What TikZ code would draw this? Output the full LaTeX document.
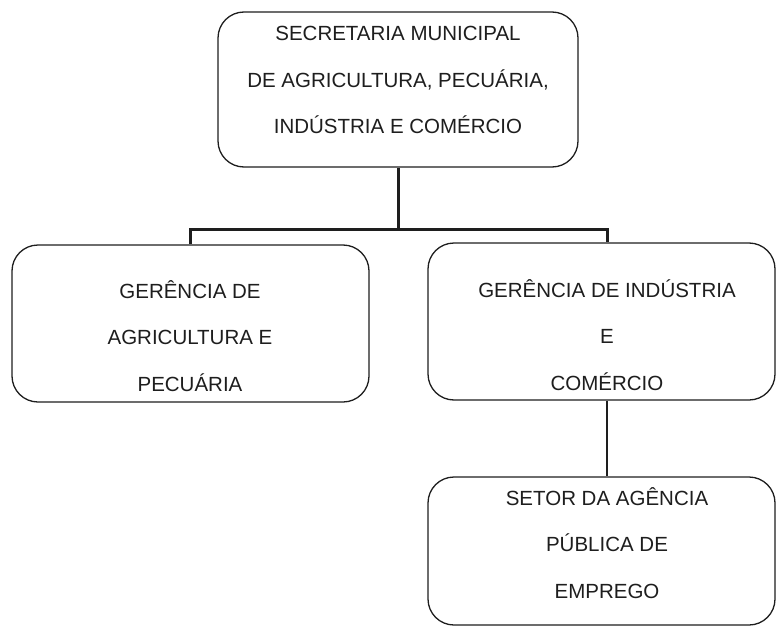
\documentclass[tikz,border=0pt]{standalone}
\usepackage{fontspec}
\setmainfont{Liberation Sans}
\definecolor{ink}{HTML}{1E1E1E}
\begin{document}
\begin{tikzpicture}[x=1pt,y=-1pt,
  box/.style={draw=ink,line width=1.3pt,rounded corners=26pt,inner sep=0pt,fill=white},
  lbl/.style={align=center,text=ink,inner sep=0pt,font=\fontsize{20.5}{46.5}\selectfont},
  conn/.style={draw=ink,line width=3pt}]
\useasboundingbox (0,0) rectangle (776,626);
\node[box,minimum width=360pt,minimum height=155pt] (top) at (398,89.5) {};
\node[box,minimum width=357pt,minimum height=157pt] (left) at (190.5,323.5) {};
\node[box,minimum width=347pt,minimum height=157pt] (right) at (601.5,321.5) {};
\node[box,minimum width=347pt,minimum height=148pt] (bot) at (601.5,551) {};
\node[lbl] (ttop) at (398,80) {SECRETARIA MUNICIPAL\\DE AGRICULTURA, PECUÁRIA,\\INDÚSTRIA E COMÉRCIO};
\node[lbl] (tleft) at (190,336) {GERÊNCIA DE\\AGRICULTURA E\\PECUÁRIA};
\node[lbl] (tright) at (607,335) {GERÊNCIA DE INDÚSTRIA\\E\\COMÉRCIO};
\node[lbl] (tbot) at (607,543) {SETOR DA AGÊNCIA\\PÚBLICA DE\\EMPREGO};
\coordinate (j) at (399,229);
\coordinate (rc) at (607,0);
\draw[conn] (top.south) -- (top.south |- j);
\draw[conn] (left.north) -- (left.north |- j) -- (rc |- j) -- (rc |- right.north);
\draw[conn,line width=2.5pt] (rc |- right.south) -- (rc |- bot.north);
\end{tikzpicture}
\end{document}
